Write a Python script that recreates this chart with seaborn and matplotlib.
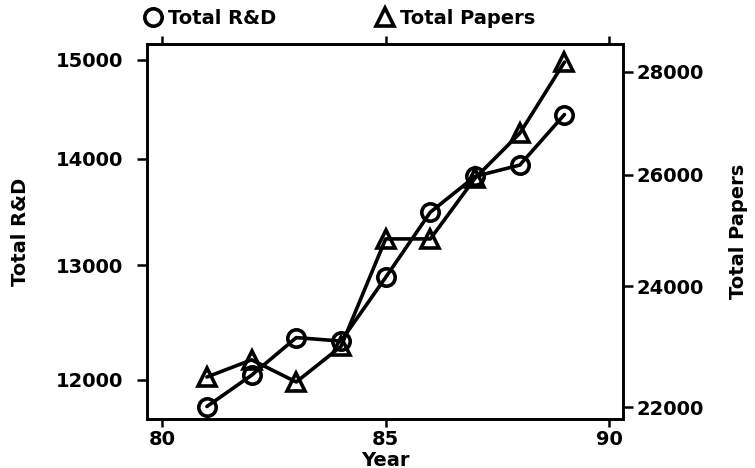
# Datos
# ==============================================================================
import numpy as np
import pandas as pd
import matplotlib
matplotlib.use("Agg")
import matplotlib.pyplot as plt
from matplotlib.ticker import FixedLocator, FixedFormatter, NullLocator
from matplotlib.lines import Line2D
import seaborn as sns

years        = [81, 82, 83, 84, 85, 86, 87, 88, 89]
total_rd     = [11780, 12040, 12360, 12330, 12890, 13490, 13830, 13940, 14440]
total_papers = [22480, 22760, 22400, 22980, 24830, 24830, 25940, 26790, 28200]

year_ticks  = [80, 85, 90]
rd_ticks    = [12000, 13000, 14000, 15000]
paper_ticks = [22000, 24000, 26000, 28000]

# Estilo
# ==============================================================================
sns.set_style("ticks")
plt.rcParams['font.family'] = ['DejaVu Sans']
plt.rcParams['font.weight'] = 'bold'
plt.rcParams['axes.labelweight'] = 'bold'
plt.rcParams['text.color'] = 'black'
plt.rcParams['axes.labelcolor'] = 'black'
plt.rcParams['xtick.color'] = 'black'
plt.rcParams['ytick.color'] = 'black'

FS = 14
LW = 2.6

df = pd.DataFrame({"Year": years, "rd": total_rd, "papers": total_papers})

fig = plt.figure(figsize=(7.55, 4.68), dpi=100)
ax = fig.add_axes([147/755, 49/468, 476/755, 375/468])
ax2 = ax.twinx()

sns.lineplot(data=df, x="Year", y="rd", ax=ax, color="black", lw=LW,
             marker="o", ms=12.5, mfc="none", mec="black", mew=LW)
sns.lineplot(data=df, x="Year", y="papers", ax=ax2, color="black", lw=LW,
             marker="^", ms=12.5, mfc="none", mec="black", mew=LW)

# Ejes
# ==============================================================================
ax.set_xlim(79.66, 90.31)
ax.xaxis.set_major_locator(FixedLocator(year_ticks))
ax.xaxis.set_major_formatter(FixedFormatter([str(t) for t in year_ticks]))

ax.set_yscale("log")
ax.set_ylim(11678, 15168)
ax.yaxis.set_major_locator(FixedLocator(rd_ticks))
ax.yaxis.set_major_formatter(FixedFormatter([str(t) for t in rd_ticks]))
ax.yaxis.set_minor_locator(NullLocator())

ax2.set_yscale("log")
ax2.set_ylim(21811, 28570)
ax2.yaxis.set_major_locator(FixedLocator(paper_ticks))
ax2.yaxis.set_major_formatter(FixedFormatter([str(t) for t in paper_ticks]))
ax2.yaxis.set_minor_locator(NullLocator())

ax.tick_params(axis="x", bottom=True, top=True, direction="out", length=6,
               width=1.8, labelsize=FS, pad=2)
ax.tick_params(axis="y", left=True, right=False, direction="out", length=7,
               width=1.8, labelsize=FS, pad=10)
ax2.tick_params(axis="y", left=False, right=True, direction="out", length=7,
                width=1.8, labelsize=FS, pad=3)

for a in (ax, ax2):
    for s in a.spines.values():
        s.set_visible(True)
        s.set_linewidth(1.9)
        s.set_color("black")

ax.set_xlabel("Year", fontsize=FS, labelpad=1)
ax.set_ylabel("Total R&D", fontsize=FS, labelpad=19)
ax2.set_ylabel("Total Papers", fontsize=FS, labelpad=18)

# Leyenda arriba
# ==============================================================================
handles = [
    Line2D([], [], ls="none", marker="o", ms=12.5, mfc="none", mec="black", mew=LW),
    Line2D([], [], ls="none", marker="^", ms=12.5, mfc="none", mec="black", mew=LW),
]
ax.legend(handles, ["Total R&D", "Total Papers"], ncol=2, frameon=False,
          loc="center left", bbox_to_anchor=(-0.008, 1 + 26/375),
          handlelength=1.0, handletextpad=0.3, columnspacing=5.05,
          borderpad=0, borderaxespad=0, fontsize=FS)

plt.savefig("out.png", dpi=100)
